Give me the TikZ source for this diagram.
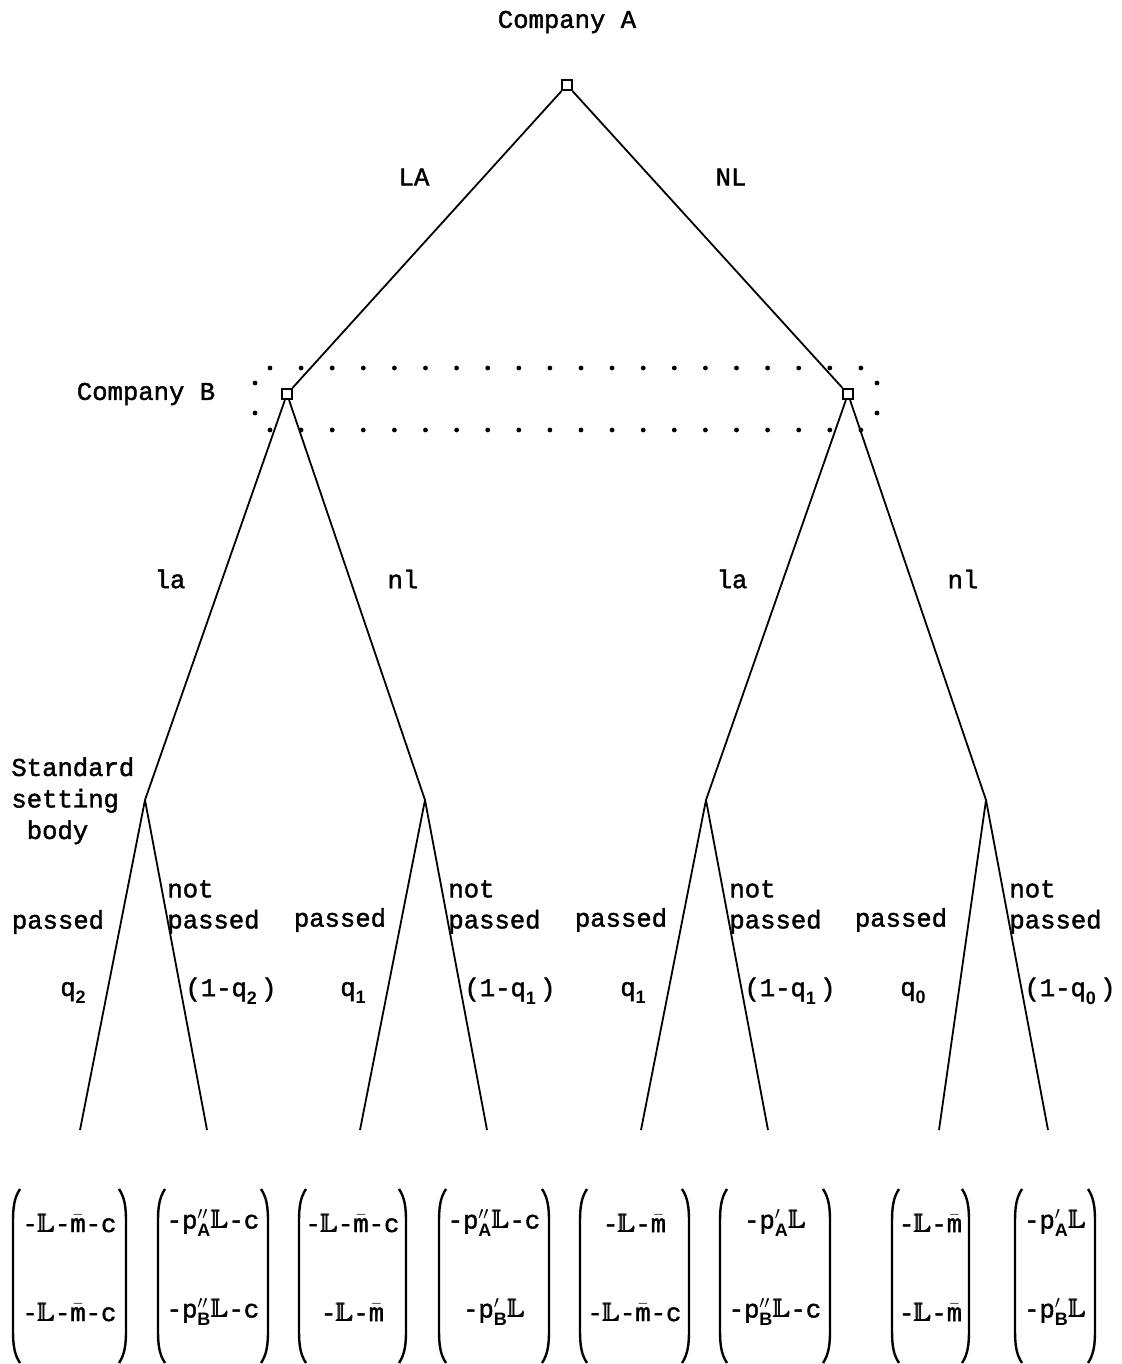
\documentclass[tikz,border=0pt]{standalone}
\usepackage{amssymb}
\usepackage{amsmath}
\usepackage{fontspec}
\setmainfont{Liberation Mono}[FakeBold=1.6]
\newfontfamily\subfont{Liberation Sans}
\newcommand\sm{\fontsize{9}{9}\subfont\bfseries}
\newcommand\sbs[1]{\raisebox{-0.6ex}{\sm #1}}
\newcommand\LL{\mbox{$\pmb{\mathbb{L}}$}}
\newcommand\mb{\mbox{$\bar{\mbox{m}}$}}
\newcommand\pq[2]{\mbox{$\mbox{p}^{#1}_{\mbox{\sm #2}}$}}
\begin{document}
\begin{tikzpicture}[x=0.5pt,y=-0.5pt,
  every node/.style={font=\fontsize{12.8}{15}\selectfont},
  player/.style={draw,line width=1.1pt,minimum size=5pt,inner sep=0pt,fill=white},
  edge/.style={line width=0.9pt},
  paren/.style={line width=1.2pt},
  lbl/.style={inner sep=1pt},
  two/.style={anchor=west,align=left,inner sep=0pt,font=\fontsize{12.8}{15.5}\selectfont},
  dot/.style={fill=black}]
\useasboundingbox (0,0) rectangle (1122,1364);
% decision nodes
\node[player] (A) at (567,85) {};
\node[player] (B1) at (287,394) {};
\node[player] (B2) at (848,394) {};
\coordinate (S1) at (145,800);
\coordinate (S2) at (425,800);
\coordinate (S3) at (706,800);
\coordinate (S4) at (986,800);
\coordinate (L1) at (80,1130);
\coordinate (L2) at (207,1130);
\coordinate (L3) at (360,1130);
\coordinate (L4) at (487,1130);
\coordinate (L5) at (641,1130);
\coordinate (L6) at (768,1130);
\coordinate (L7) at (939,1130);
\coordinate (L8) at (1048,1130);
% edges
\draw[edge] (A) -- (B1);
\draw[edge] (A) -- (B2);
\draw[edge] (B1) -- (S1);
\draw[edge] (B1) -- (S2);
\draw[edge] (B2) -- (S3);
\draw[edge] (B2) -- (S4);
\draw[edge] (S1) -- (L1);
\draw[edge] (S1) -- (L2);
\draw[edge] (S2) -- (L3);
\draw[edge] (S2) -- (L4);
\draw[edge] (S3) -- (L5);
\draw[edge] (S3) -- (L6);
\draw[edge] (S4) -- (L7);
\draw[edge] (S4) -- (L8);
% information set
\foreach \i in {0,...,19} {
  \fill[dot] ({270+31.1*\i},368) circle (2.4);
  \fill[dot] ({270+31.1*\i},430) circle (2.4);
}
\foreach \yy in {383,413} {
  \fill[dot] (255,\yy) circle (2.4);
  \fill[dot] (877,\yy) circle (2.4);
}
% labels
\node[lbl] (tA) at (567,22) {Company A};
\node[lbl] (tB) at (146,394) {Company B};
\node[lbl] (eLA) at (414,177) {LA};
\node[lbl] (eNL) at (731,177) {NL};
\node[lbl] (e1) at (170,579) {la};
\node[lbl] (e2) at (403,579) {nl};
\node[lbl] (e3) at (732,579) {la};
\node[lbl] (e4) at (963,579) {nl};
\node[anchor=north west,align=left,inner sep=0pt,font=\fontsize{12.8}{15.75}\selectfont] (tS) at (11,757)
  {Standard\\setting\\\hspace*{0.6em}body};
\node[lbl] (p1) at (58,922) {passed};
\node[lbl] (p2) at (340,920) {passed};
\node[lbl] (p3) at (621,920) {passed};
\node[lbl] (p4) at (901,920) {passed};
\node[two] (n1) at (167,907) {not\\passed};
\node[two] (n2) at (448,907) {not\\passed};
\node[two] (n3) at (729,907) {not\\passed};
\node[two] (n4) at (1009,907) {not\\passed};
\node[lbl] (q1) at (73,993) {q\sbs{2}};
\node[lbl] (r1) at (231,991) {(1-q\sbs{2}\,)};
\node[lbl] (q2) at (353,993) {q\sbs{1}};
\node[lbl] (r2) at (510,991) {(1-q\sbs{1}\,)};
\node[lbl] (q3) at (633,993) {q\sbs{1}};
\node[lbl] (r3) at (790,991) {(1-q\sbs{1}\,)};
\node[lbl] (q4) at (913,993) {q\sbs{0}};
\node[lbl] (r4) at (1070,991) {(1-q\sbs{0}\,)};
% payoff vectors: #1 name, #2 left paren x, #3 right paren x, #4 top, #5 bottom
\newcommand\payoff[5]{%
  \node[lbl] (#1t) at ({(#2+#3)/2},1223) {#4};
  \node[lbl] (#1b) at ({(#2+#3)/2},1312) {#5};
  \draw[paren] (#2+7,1189) .. controls (#2+1,1198) and (#2,1208) .. (#2,1222)
     -- (#2,1330) .. controls (#2,1344) and (#2+1,1354) .. (#2+7,1363);
  \draw[paren] (#3-7,1189) .. controls (#3-1,1198) and (#3,1208) .. (#3,1222)
     -- (#3,1330) .. controls (#3,1344) and (#3-1,1354) .. (#3-7,1363);
}
\payoff{v1}{13}{126}{-\LL-\mb-c}{-\LL-\mb-c}
\payoff{v2}{158}{268}{-\pq{\prime\prime}{A}\LL-c}{-\pq{\prime\prime}{B}\LL-c}
\payoff{v3}{299}{406}{-\LL-\mb-c}{-\LL-\mb}
\payoff{v4}{439}{549}{-\pq{\prime\prime}{A}\LL-c}{-\pq{\prime}{B}\LL}
\payoff{v5}{580}{689}{-\LL-\mb}{-\LL-\mb-c}
\payoff{v6}{720}{830}{-\pq{\prime}{A}\LL}{-\pq{\prime\prime}{B}\LL-c}
\payoff{v7}{892}{969}{-\LL-\mb}{-\LL-\mb}
\payoff{v8}{1015}{1095}{-\pq{\prime}{A}\LL}{-\pq{\prime}{B}\LL}
\end{tikzpicture}
\end{document}
